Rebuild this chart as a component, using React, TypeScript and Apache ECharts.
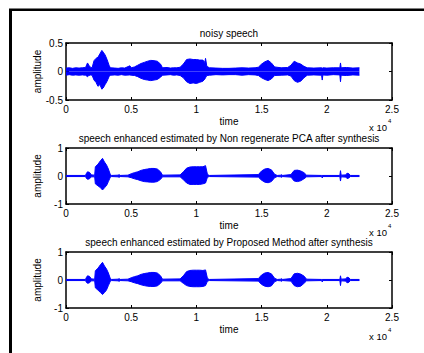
import React, { useEffect, useRef } from "react";
import * as echarts from "echarts";

// ---- Data (sample index, upper envelope, lower envelope) ----
const titles = [
  "noisy speech",
  "speech enhanced estimated by Non regenerate PCA after synthesis",
  "speech enhanced estimated by Proposed Method after synthesis",
];
const xTicks = ["0", "0.5", "1", "1.5", "2", "2.5"];

const tNoisy = [
  0, 250, 500, 750, 1000, 1250, 1500, 1650, 1750, 1900,
  2000, 2150, 2300, 2450, 2600, 2750, 2850, 3000, 3150, 3300,
  3400, 3750, 4000, 4250, 4500, 4900, 5000, 5250, 5500, 5750,
  6000, 6250, 6500, 6750, 7000, 7250, 7400, 7750, 8000, 8250,
  8500, 8750, 9000, 9250, 9500, 9750, 10000, 10250, 10500, 10650,
  10700, 10800, 11000, 11500, 12000, 12500, 13000, 13500, 14000, 14500,
  14750, 15000, 15250, 15500, 15750, 16000, 16500, 17000, 17250, 17500,
  17750, 18000, 18250, 18500, 19000, 19600, 19650, 19700, 20000, 20500,
  21000, 21050, 21100, 21500, 22000, 22500,
];
const upNoisy = [
  0.06, 0.065, 0.055, 0.065, 0.06, 0.065, 0.07, 0.15, 0.11, 0.07,
  0.065, 0.19, 0.23, 0.25, 0.31, 0.37, 0.34, 0.29, 0.21, 0.11,
  0.065, 0.06, 0.055, 0.065, 0.06, 0.10, 0.065, 0.08, 0.11, 0.14,
  0.16, 0.18, 0.195, 0.19, 0.18, 0.13, 0.065, 0.07, 0.06, 0.065,
  0.065, 0.075, 0.13, 0.21, 0.22, 0.21, 0.21, 0.20, 0.20, 0.16,
  0.23, 0.09, 0.065, 0.06, 0.055, 0.055, 0.06, 0.065, 0.06, 0.065,
  0.075, 0.13, 0.17, 0.195, 0.15, 0.08, 0.065, 0.07, 0.11, 0.18,
  0.15, 0.13, 0.09, 0.065, 0.06, 0.065, 0.055, 0.065, 0.06, 0.065,
  0.065, 0.15, 0.065, 0.07, 0.06, 0.065,
];
const loNoisy = [
  -0.065, -0.055, -0.065, -0.06, -0.065, -0.06, -0.065, -0.09, -0.07, -0.06,
  -0.065, -0.15, -0.19, -0.26, -0.23, -0.31, -0.29, -0.23, -0.17, -0.09,
  -0.065, -0.06, -0.065, -0.055, -0.065, -0.06, -0.065, -0.07, -0.09, -0.12,
  -0.14, -0.15, -0.16, -0.15, -0.14, -0.10, -0.065, -0.06, -0.055, -0.065,
  -0.06, -0.07, -0.11, -0.18, -0.21, -0.20, -0.21, -0.19, -0.17, -0.13,
  -0.11, -0.07, -0.065, -0.055, -0.06, -0.055, -0.055, -0.065, -0.055, -0.06,
  -0.07, -0.11, -0.14, -0.16, -0.13, -0.07, -0.065, -0.06, -0.08, -0.16,
  -0.19, -0.17, -0.11, -0.065, -0.06, -0.065, -0.15, -0.06, -0.065, -0.055,
  -0.06, -0.18, -0.065, -0.07, -0.06, -0.065,
];

const tPca = [
  0, 1500, 1550, 1650, 1800, 1950, 2200, 2250, 2450, 2650,
  2800, 2950, 3100, 3250, 3400, 3500, 4000, 4070, 4150, 4750,
  5000, 5250, 5500, 5750, 6000, 6250, 6500, 6750, 7000, 7250,
  7400, 8750, 9000, 9250, 9500, 9750, 10000, 10250, 10500, 10700,
  10850, 11000, 14750, 15000, 15250, 15500, 15750, 16000, 16200, 16500,
  16550, 16600, 17250, 17500, 17750, 18000, 18250, 18450, 19600, 19650,
  19700, 21000, 21050, 21100, 21450, 21550, 21700, 21800, 22500,
];
const upPca = [
  0.02, 0.02, 0.08, 0.15, 0.13, 0.04, 0.03, 0.33, 0.42, 0.55,
  0.63, 0.50, 0.40, 0.25, 0.05, 0.02, 0.03, 0.05, 0.02, 0.03,
  0.08, 0.12, 0.15, 0.20, 0.23, 0.25, 0.27, 0.27, 0.25, 0.15,
  0.03, 0.04, 0.15, 0.28, 0.32, 0.33, 0.33, 0.33, 0.33, 0.37,
  0.05, 0.02, 0.05, 0.18, 0.25, 0.27, 0.22, 0.06, 0.02, 0.03,
  0.05, 0.02, 0.05, 0.20, 0.21, 0.18, 0.12, 0.03, 0.02, 0.02,
  0.02, 0.02, 0.19, 0.03, 0.04, 0.10, 0.08, 0.02, 0.02,
];
const loPca = [
  -0.02, -0.02, -0.07, -0.12, -0.10, -0.03, -0.03, -0.28, -0.35, -0.42,
  -0.50, -0.42, -0.35, -0.20, -0.04, -0.02, -0.03, -0.05, -0.02, -0.03,
  -0.06, -0.10, -0.13, -0.17, -0.20, -0.21, -0.22, -0.22, -0.20, -0.12,
  -0.03, -0.03, -0.13, -0.25, -0.30, -0.30, -0.30, -0.30, -0.28, -0.25,
  -0.04, -0.02, -0.04, -0.15, -0.22, -0.24, -0.20, -0.06, -0.02, -0.03,
  -0.05, -0.02, -0.04, -0.18, -0.20, -0.17, -0.10, -0.03, -0.02, -0.07,
  -0.02, -0.02, -0.18, -0.03, -0.04, -0.09, -0.07, -0.02, -0.02,
];

const tProp = tPca;
const upProp = [
  0.02, 0.02, 0.08, 0.15, 0.13, 0.04, 0.03, 0.33, 0.42, 0.55,
  0.63, 0.50, 0.40, 0.25, 0.05, 0.02, 0.03, 0.05, 0.02, 0.03,
  0.08, 0.12, 0.15, 0.20, 0.23, 0.25, 0.27, 0.27, 0.25, 0.15,
  0.03, 0.04, 0.15, 0.30, 0.34, 0.35, 0.35, 0.35, 0.34, 0.36,
  0.05, 0.02, 0.05, 0.18, 0.25, 0.27, 0.22, 0.06, 0.02, 0.03,
  0.05, 0.02, 0.05, 0.22, 0.24, 0.21, 0.14, 0.03, 0.02, 0.02,
  0.02, 0.02, 0.15, 0.03, 0.04, 0.10, 0.08, 0.02, 0.02,
];
const loProp = [
  -0.02, -0.02, -0.07, -0.12, -0.10, -0.03, -0.03, -0.28, -0.36, -0.45,
  -0.52, -0.45, -0.36, -0.20, -0.04, -0.02, -0.03, -0.05, -0.02, -0.03,
  -0.06, -0.10, -0.13, -0.17, -0.20, -0.22, -0.23, -0.23, -0.21, -0.12,
  -0.03, -0.03, -0.12, -0.20, -0.23, -0.24, -0.24, -0.24, -0.23, -0.20,
  -0.04, -0.02, -0.04, -0.16, -0.22, -0.24, -0.21, -0.06, -0.02, -0.03,
  -0.05, -0.02, -0.04, -0.20, -0.24, -0.22, -0.12, -0.03, -0.02, -0.07,
  -0.02, -0.02, -0.20, -0.03, -0.04, -0.10, -0.08, -0.02, -0.02,
];

const signals = [
  { t: tNoisy, up: upNoisy, lo: loNoisy, yMin: -0.5, yMax: 0.5, yStep: 0.5 },
  { t: tPca, up: upPca, lo: loPca, yMin: -1, yMax: 1, yStep: 1 },
  { t: tProp, up: upProp, lo: loProp, yMin: -1, yMax: 1, yStep: 1 },
];

const FONT = "Liberation Sans, Arial, sans-serif";
const BLUE = "#0000ff";
const gridTops = [43, 148, 252];
const GRID_LEFT = 66;
const GRID_W = 326;
const GRID_H = 57;

export default function App() {
  const ref = useRef<HTMLDivElement>(null);
  useEffect(() => {
    if (!ref.current) return;
    const chart = echarts.init(ref.current, null, { renderer: "svg" });

    const grid: any[] = [];
    const xAxis: any[] = [];
    const yAxis: any[] = [];
    const series: any[] = [];
    const graphic: any[] = [
      { type: "rect", shape: { x: 9, y: 9, width: 3, height: 344 }, style: { fill: "#000" } },
      { type: "rect", shape: { x: 9, y: 8.5, width: 415, height: 2.5 }, style: { fill: "#000" } },
    ];

    signals.forEach((s, i) => {
      const top = gridTops[i];
      grid.push({ left: GRID_LEFT, top, width: GRID_W, height: GRID_H - (i === 0 ? 0 : 1), containLabel: false });
      const axisLine = { show: true, onZero: false, lineStyle: { color: "#000", width: 1.5 } };
      xAxis.push({
        type: "value", gridIndex: i, min: 0, max: 25000, interval: 5000, position: "bottom",
        axisLine, splitLine: { show: false },
        axisTick: { show: true, inside: true, length: 3, lineStyle: { color: "#000" } },
        axisLabel: {
          color: "#000", fontFamily: FONT, fontSize: 10, margin: 4,
          formatter: (v: number) => xTicks[Math.round(v / 5000)] ?? "",
        },
        name: "time", nameLocation: "middle", nameGap: 16, nameMoveOverlap: false,
        nameTextStyle: { color: "#000", fontFamily: FONT, fontSize: 10 },
      });
      xAxis.push({
        type: "value", gridIndex: i, min: 0, max: 25000, interval: 5000, position: "top",
        axisLine, splitLine: { show: false },
        axisTick: { show: true, inside: true, length: 3, lineStyle: { color: "#000" } },
        axisLabel: { show: false },
      });
      yAxis.push({
        type: "value", gridIndex: i, min: s.yMin, max: s.yMax, interval: s.yStep, position: "left",
        axisLine, splitLine: { show: false },
        axisTick: { show: true, inside: true, length: 3, lineStyle: { color: "#000" } },
        axisLabel: { color: "#000", fontFamily: FONT, fontSize: 10, margin: 3 },
        name: "amplitude", nameLocation: "middle", nameGap: 24, nameMoveOverlap: false,
        nameTextStyle: { color: "#000", fontFamily: FONT, fontSize: 10 },
      });
      yAxis.push({
        type: "value", gridIndex: i, min: s.yMin, max: s.yMax, interval: s.yStep, position: "right",
        axisLine, splitLine: { show: false },
        axisTick: { show: true, inside: true, length: 3, lineStyle: { color: "#000" } },
        axisLabel: { show: false },
      });
      const mk = (vals: number[]) => s.t.map((t, k) => [t, vals[k]]);
      [s.up, s.lo].forEach((vals) => {
        series.push({
          type: "line", xAxisIndex: i * 2, yAxisIndex: i * 2, data: mk(vals),
          symbol: "none", lineStyle: { color: BLUE, width: 1 },
          areaStyle: { color: BLUE, opacity: 1 }, z: 1,
        });
      });
      graphic.push({
        type: "text", x: GRID_LEFT + GRID_W / 2, y: top - 10,
        style: { text: titles[i], font: `10px ${FONT}`, fill: "#000", align: "center", verticalAlign: "middle" },
      });
      const bottom = top + GRID_H;
      graphic.push({
        type: "text", x: 387, y: bottom + 27,
        style: { text: "x 10", font: `9.5px ${FONT}`, fill: "#000", align: "right", verticalAlign: "middle" },
      });
      graphic.push({
        type: "text", x: 388, y: bottom + 21,
        style: { text: "4", font: `6px ${FONT}`, fill: "#000", align: "left", verticalAlign: "middle" },
      });
    });

    chart.setOption({
      animation: false,
      backgroundColor: "#fff",
      grid, xAxis, yAxis, series, graphic,
    });
    return () => chart.dispose();
  }, []);
  return (
    <div
      ref={ref}
      style={{ position: "fixed", left: 0, top: 0, width: 424, height: 353 }}
    />
  );
}
